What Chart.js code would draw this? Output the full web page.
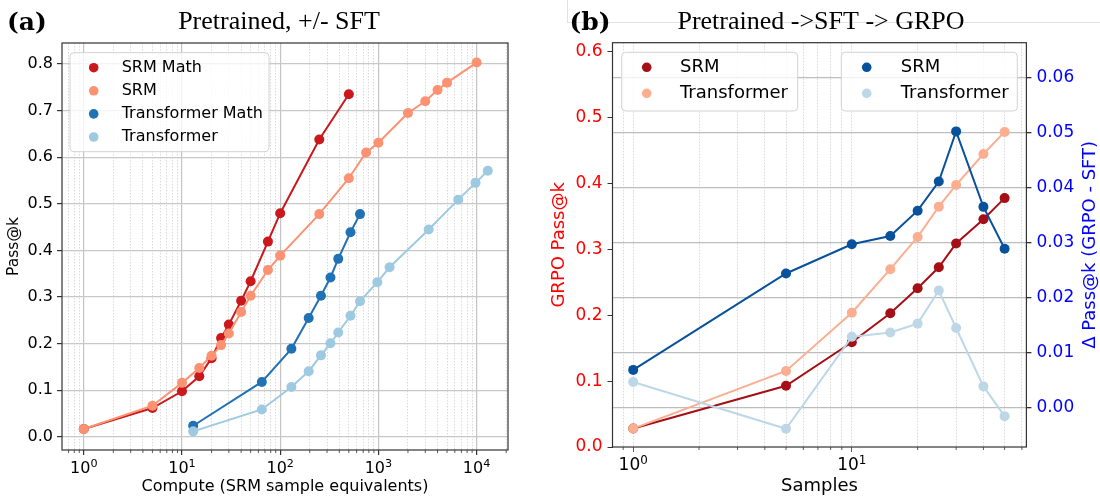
<!DOCTYPE html>
<html>
<head>
<meta charset="utf-8">
<script src="https://cdn.jsdelivr.net/npm/chart.js@4.4.1/dist/chart.umd.min.js"></script>
<style>
  body { margin: 0; background: #fff; }
  #wrap { position: relative; width: 1100px; height: 498px; overflow: hidden; }
  canvas { position: absolute; top: 0; }
  #chartA { left: 0; }
  #chartB { left: 540px; }
  .corner { position: absolute; left: 567px; top: 0; width: 533px; height: 22px;
            border-left: 1px solid #e2e2e2; border-bottom: 1px solid #e2e2e2; }
</style>
</head>
<body>
<div id="wrap">
  <div class="corner"></div>
  <canvas id="chartA" width="540" height="498"></canvas>
  <canvas id="chartB" width="560" height="498"></canvas>
</div>
<script>
// ---- panel (a): Pretrained, +/- SFT ----
const aSrmX = [1, 5, 10, 15, 20, 25, 30, 40, 50, 75, 100, 250, 500, 750, 1000, 2000, 3000, 4000, 5000, 10000];
const aSrmMathY = [0.017, 0.062, 0.098, 0.130, 0.169, 0.212, 0.241, 0.292, 0.334, 0.419, 0.480, 0.638, 0.735];
const aSrmY = [0.017, 0.067, 0.116, 0.148, 0.174, 0.197, 0.222, 0.268, 0.303, 0.358, 0.389, 0.478, 0.555,
               0.610, 0.631, 0.695, 0.720, 0.744, 0.760, 0.803];
const aTfX = [13, 65, 130, 195, 260, 325, 390, 520, 650, 975, 1300, 3250, 6500, 9750, 13000];
const aTfMathY = [0.024, 0.118, 0.189, 0.255, 0.303, 0.342, 0.382, 0.439, 0.478];
const aTfY = [0.012, 0.059, 0.107, 0.141, 0.175, 0.201, 0.224, 0.260, 0.291, 0.332, 0.364, 0.445, 0.509, 0.545, 0.571];
const aXMajor = [1, 10, 100, 1000, 10000];
const aXTickLabels = ['10^0', '10^1', '10^2', '10^3', '10^4'];
const aYTicks = [0, 0.1, 0.2, 0.3, 0.4, 0.5, 0.6, 0.7, 0.8];
const aYTickLabels = ['0.0', '0.1', '0.2', '0.3', '0.4', '0.5', '0.6', '0.7', '0.8'];

// ---- panel (b): Pretrained ->SFT -> GRPO ----
const bX = [1, 5, 10, 15, 20, 25, 30, 40, 50];
const bSrmY = [0.028, 0.093, 0.159, 0.203, 0.241, 0.273, 0.309, 0.346, 0.378];
const bTfY = [0.028, 0.1155, 0.204, 0.270, 0.319, 0.365, 0.398, 0.445, 0.4785];
const bSrmDelta = [0.0069, 0.0244, 0.0297, 0.0312, 0.0358, 0.0411, 0.0502, 0.0365, 0.0289];
const bTfDelta = [0.0047, -0.0038, 0.0129, 0.0137, 0.0153, 0.0213, 0.0145, 0.0039, -0.0015];
const bXMajor = [1, 10];
const bXTickLabels = ['10^0', '10^1'];
const bYTicks = [0, 0.1, 0.2, 0.3, 0.4, 0.5, 0.6];
const bYTickLabels = ['0.0', '0.1', '0.2', '0.3', '0.4', '0.5', '0.6'];
const bY2Ticks = [0, 0.01, 0.02, 0.03, 0.04, 0.05, 0.06];
const bY2TickLabels = ['0.00', '0.01', '0.02', '0.03', '0.04', '0.05', '0.06'];

Chart.defaults.font.family = "'DejaVu Sans', sans-serif";
Chart.defaults.color = '#000';

function pts(xs, ys) {
  return ys.map((y, i) => ({ x: xs[i], y: y }));
}

// 1..9 x 10^d ticks between min and max, powers of ten are major
function logTicks(min, max) {
  const out = [];
  for (let d = Math.floor(Math.log10(min)); d <= Math.ceil(Math.log10(max)); d++) {
    for (let k = 1; k <= 9; k++) {
      const v = Number((k * Math.pow(10, d)).toPrecision(6));
      if (v >= min && v <= max) out.push({ value: v, major: k === 1 });
    }
  }
  return out;
}

function fixedTicks(values) {
  return function (scale) { scale.ticks = values.map(v => ({ value: v })); };
}

function line(label, data, color, order, yAxisID) {
  return {
    label: label, data: data, borderColor: color, backgroundColor: color,
    pointBackgroundColor: color, order: order, yAxisID: yAxisID || 'y'
  };
}

const framePlugin = {
  id: 'frame',
  afterDraw(chart) {
    const a = chart.chartArea, ctx = chart.ctx, s = chart.scales.x;
    ctx.save();
    ctx.strokeStyle = '#333';
    ctx.lineWidth = 1.2;
    ctx.strokeRect(a.left, a.top, a.right - a.left, a.bottom - a.top);
    // short minor tick marks on the log axis
    ctx.lineWidth = 0.8;
    s.ticks.forEach(t => {
      if (t.major) return;
      const px = s.getPixelForValue(t.value);
      ctx.beginPath();
      ctx.moveTo(px, a.bottom);
      ctx.lineTo(px, a.bottom + 3);
      ctx.stroke();
    });
    ctx.restore();
  }
};

// "10^n" tick labels with a real raised exponent, like mathtext
const powerLabels = {
  id: 'powerLabels',
  afterDraw(chart, args, o) {
    const s = chart.scales.x, ctx = chart.ctx;
    const big = o.size + "px 'DejaVu Sans'";
    const small = (o.size * 0.7) + "px 'DejaVu Sans'";
    ctx.save();
    ctx.fillStyle = '#000';
    ctx.textAlign = 'left';
    ctx.textBaseline = 'alphabetic';
    o.values.forEach((v, i) => {
      const parts = o.labels[i].split('^');
      ctx.font = big;
      const w1 = ctx.measureText(parts[0]).width;
      ctx.font = small;
      const w2 = ctx.measureText(parts[1]).width;
      const x0 = s.getPixelForValue(v) - (w1 + w2) / 2;
      ctx.font = big;
      ctx.fillText(parts[0], x0, o.baseline);
      ctx.font = small;
      ctx.fillText(parts[1], x0 + w1, o.baseline - o.size * 0.35);
    });
    ctx.restore();
  }
};

const boxLegend = {
  id: 'boxLegend',
  afterDatasetsDraw(chart, args, opts) {
    const ctx = chart.ctx;
    opts.boxes.forEach(b => {
      ctx.save();
      ctx.fillStyle = 'rgba(255,255,255,0.8)';
      ctx.strokeStyle = '#d2d2d2';
      ctx.lineWidth = 1;
      ctx.beginPath();
      ctx.roundRect(b.x, b.y, b.w, b.h, 4);
      ctx.fill();
      ctx.stroke();
      ctx.font = b.font;
      ctx.textBaseline = 'middle';
      b.items.forEach((idx, k) => {
        const ds = chart.data.datasets[idx];
        const cy = b.y + b.first + k * b.step;
        ctx.fillStyle = ds.borderColor;
        ctx.beginPath();
        ctx.arc(b.x + b.mx, cy, 4.8, 0, 2 * Math.PI);
        ctx.fill();
        ctx.fillStyle = '#000';
        ctx.fillText(ds.label, b.x + b.tx, cy);
      });
      ctx.restore();
    });
  }
};

const panelText = {
  id: 'panelText',
  afterDraw(chart, args, o) {
    const ctx = chart.ctx;
    ctx.save();
    ctx.fillStyle = '#000';
    ctx.textBaseline = 'alphabetic';
    ctx.textAlign = 'left';
    ctx.font = "bold 25px 'DejaVu Serif'";
    ctx.fillText(o.letter, o.letterX, 29.5);
    ctx.textAlign = 'center';
    ctx.font = "26px 'Liberation Serif'";
    ctx.fillText(o.title, o.titleX, 28.5);
    if (o.rightLabel) {
      const a = chart.chartArea;
      ctx.translate(o.rightX, (a.top + a.bottom) / 2);
      ctx.rotate(-Math.PI / 2);
      ctx.font = "18px 'DejaVu Sans'";
      ctx.fillStyle = o.rightColor;
      ctx.textBaseline = 'middle';
      ctx.fillText(o.rightLabel, 0, 0);
    }
    ctx.restore();
  }
};

const tickDark = '#333';

// ---------------- chart (a) ----------------
const aXMin = 0.6226, aXMax = 20878;
const chartA = new Chart(document.getElementById('chartA'), {
  type: 'line',
  data: {
    datasets: [
      line('SRM Math', pts(aSrmX, aSrmMathY), '#cb181d', 0),
      line('SRM', pts(aSrmX, aSrmY), '#fc9272', -1),
      line('Transformer Math', pts(aTfX, aTfMathY), '#2171b5', -2),
      line('Transformer', pts(aTfX, aTfY), '#9ecae1', -3)
    ]
  },
  options: {
    responsive: false,
    animation: false,
    layout: { padding: { top: 43, right: 32, left: 0, bottom: 0 } },
    elements: {
      line: { borderWidth: 2, tension: 0 },
      point: { radius: 5, borderWidth: 0, hoverRadius: 5 }
    },
    plugins: {
      legend: { display: false },
      tooltip: { enabled: false },
      boxLegend: {
        boxes: [{ x: 70, y: 52.7, w: 199, h: 99, mx: 23.7, tx: 51.7, first: 15, step: 23.1,
                  font: "16px 'DejaVu Sans'", items: [0, 1, 2, 3] }]
      },
      powerLabels: { values: aXMajor, labels: aXTickLabels, size: 16, baseline: 472.5 },
      panelText: { letter: '(a)', letterX: 7, title: 'Pretrained, +/- SFT', titleX: 279 }
    },
    scales: {
      x: {
        type: 'logarithmic',
        min: aXMin,
        max: aXMax,
        afterFit: s => { s.height = 48; },
        afterBuildTicks: s => { s.ticks = logTicks(aXMin, aXMax); },
        ticks: { autoSkip: false, maxRotation: 0, minRotation: 0, padding: 3, callback: () => '' },
        grid: {
          color: c => c.tick && c.tick.major ? '#c4c4c4' : '#d0d0d0',
          lineWidth: c => c.tick && c.tick.major ? 1.2 : 0.8,
          tickColor: c => c.tick && c.tick.major ? tickDark : 'rgba(0,0,0,0)',
          tickLength: 5
        },
        border: { display: false, dash: c => c.tick && c.tick.major ? [] : [1.5, 1.5] },
        title: { display: true, text: 'Compute (SRM sample equivalents)', font: { size: 16 },
                 padding: { top: 0, bottom: 2 } }
      },
      y: {
        min: -0.028,
        max: 0.845,
        afterFit: s => { s.width = 62; },
        afterBuildTicks: fixedTicks(aYTicks),
        ticks: { autoSkip: false, padding: 4, font: { size: 16 }, callback: (v, i) => aYTickLabels[i] },
        grid: { color: '#c8c8c8', lineWidth: 1.2, tickColor: tickDark, tickLength: 5 },
        border: { display: false },
        title: { display: true, text: 'Pass@k', font: { size: 15.5 }, padding: { top: 5, bottom: 0 } }
      }
    }
  },
  plugins: [framePlugin, boxLegend, powerLabels, panelText]
});

// ---------------- chart (b) ----------------
const bXMin = 0.804, bXMax = 62.9;
const chartB = new Chart(document.getElementById('chartB'), {
  type: 'line',
  data: {
    datasets: [
      line('SRM', pts(bX, bSrmY), '#a50f15', 0, 'y'),
      line('Transformer', pts(bX, bTfY), '#fcae91', -1, 'y'),
      line('SRM', pts(bX, bSrmDelta), '#08519c', -2, 'y2'),
      line('Transformer', pts(bX, bTfDelta), '#bdd7e7', -3, 'y2')
    ]
  },
  options: {
    responsive: false,
    animation: false,
    layout: { padding: { top: 42.7, right: 0, left: 0, bottom: 0 } },
    elements: {
      line: { borderWidth: 2, tension: 0 },
      point: { radius: 5, borderWidth: 0, hoverRadius: 5 }
    },
    plugins: {
      legend: { display: false },
      tooltip: { enabled: false },
      boxLegend: {
        boxes: [
          { x: 81.7, y: 52.3, w: 176, h: 58.7, mx: 25, tx: 58.3, first: 15, step: 26,
            font: "18px 'DejaVu Sans'", items: [0, 1] },
          { x: 301.3, y: 52.3, w: 176, h: 58.7, mx: 25.4, tx: 59.4, first: 15, step: 26,
            font: "18px 'DejaVu Sans'", items: [2, 3] }
        ]
      },
      powerLabels: { values: bXMajor, labels: bXTickLabels, size: 17, baseline: 469.5 },
      panelText: { letter: '(b)', letterX: 29.5, title: 'Pretrained ->SFT -> GRPO', titleX: 281,
                   rightLabel: 'Δ Pass@k (GRPO - SFT)', rightX: 550, rightColor: '#0000ff' }
    },
    scales: {
      x: {
        type: 'logarithmic',
        min: bXMin,
        max: bXMax,
        afterFit: s => { s.height = 51; },
        afterBuildTicks: s => { s.ticks = logTicks(bXMin, bXMax); },
        ticks: { autoSkip: false, maxRotation: 0, minRotation: 0, padding: 1, callback: () => '' },
        grid: {
          color: '#cfcfcf',
          lineWidth: 0.8,
          tickColor: c => c.tick && c.tick.major ? tickDark : 'rgba(0,0,0,0)',
          tickLength: 5
        },
        border: { display: false, dash: [1.5, 1.5] },
        title: { display: true, text: 'Samples', font: { size: 18 }, padding: { top: 0, bottom: 1 } }
      },
      y: {
        position: 'left',
        min: 0,
        max: 0.614,
        afterFit: s => { s.width = 72.5; },
        afterBuildTicks: fixedTicks(bYTicks),
        ticks: { autoSkip: false, padding: 5, color: '#ff0000', font: { size: 17 },
                 callback: (v, i) => bYTickLabels[i] },
        grid: { drawOnChartArea: false, tickColor: tickDark, tickLength: 5 },
        border: { display: false },
        title: { display: true, text: 'GRPO Pass@k', color: '#ff0000', font: { size: 18 },
                 padding: { top: 9, bottom: 0 } }
      },
      y2: {
        position: 'right',
        min: -0.0071,
        max: 0.0663,
        afterFit: s => { s.width = 73.6; },
        afterBuildTicks: fixedTicks(bY2Ticks),
        ticks: { autoSkip: false, padding: 5, color: '#0000ff', font: { size: 17 },
                 callback: (v, i) => bY2TickLabels[i] },
        grid: { color: '#bdbdbd', lineWidth: 1.3, tickColor: tickDark, tickLength: 5 },
        border: { display: false }
      }
    }
  },
  plugins: [framePlugin, boxLegend, powerLabels, panelText]
});
</script>
</body>
</html>
